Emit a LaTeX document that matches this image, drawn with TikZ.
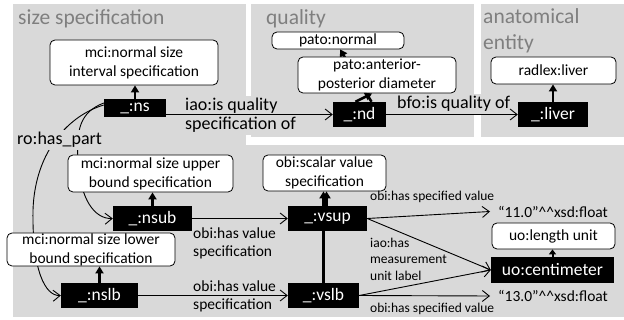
\documentclass[tikz,border=0pt]{standalone}
\usepackage{fontspec}
\setmainfont{Carlito}
\usetikzlibrary{arrows.meta}
\definecolor{panel}{RGB}{217,217,217}
\definecolor{ttl}{RGB}{127,127,127}
\begin{document}
\begin{tikzpicture}[x=1pt,y=-1pt,
 wbox/.style={draw=black, line width=0.8pt, fill=white, rounded corners=5pt, align=center, inner sep=0pt, font=\fontsize{15.5}{19}\selectfont},
 bbox/.style={fill=black, text=white, inner sep=0pt, font=\fontsize{17.5}{20}\selectfont},
 rel/.style={line width=0.9pt, -{Straight Barb[length=7pt,width=11pt]}},
 typ/.style={line width=2.6pt, -{Triangle[length=7pt,width=8pt]}},
 biglab/.style={inner sep=0pt, align=left, font=\fontsize{18}{19}\selectfont},
 midlab/.style={inner sep=0pt, align=left, font=\fontsize{15.5}{18}\selectfont},
 smalllab/.style={inner sep=0pt, align=left, font=\fontsize{13.5}{16.5}\selectfont},
 title/.style={inner sep=0pt, align=left, text=ttl, font=\fontsize{21.5}{26}\selectfont},
 lit/.style={inner xsep=8pt, inner ysep=0pt, font=\fontsize{15.5}{18}\selectfont}
]
\useasboundingbox (0,0) rectangle (624,320);
% panels
\fill[panel] (13,4) rectangle (246,145);
\fill[panel] (251,4) rectangle (474,137);
\fill[panel] (481,4) rectangle (624,137);
\fill[panel] (13,145) rectangle (624,317);
% titles
\node[title, anchor=base west] (tsize) at (18,25) {size specification};
\node[title, anchor=base west] (tqual) at (266,25) {quality};
\node[title, anchor=base west] (tanat) at (483,50) {anatomical\\entity};
% size specification
\node[wbox, minimum width=168pt, minimum height=45pt] (nsspec) at (134,62.5) {mci:normal size\\interval specification};
\node[bbox, minimum width=62pt, minimum height=18pt] (ns) at (135,108) {\_:ns};
\draw[typ] (ns.north) -- (ns.north |- nsspec.south);
% quality
\node[wbox, minimum width=132pt, minimum height=17pt] (patonormal) at (338,40.5) {pato:normal};
\node[bbox, minimum width=53pt, minimum height=25pt] (nd) at (359.5,114.5) {\_:nd};
\draw[typ] ([xshift=12pt]nd.north) -- ([xshift=2pt]patonormal.south);
\node[wbox, minimum width=158pt, minimum height=36pt] (apdiam) at (377,75) {pato:anterior-\\posterior diameter};
\draw[typ] ([xshift=-4pt]nd.north) -- ([xshift=-5pt]apdiam.south);
% anatomical entity
\node[wbox, minimum width=125pt, minimum height=27pt] (radlex) at (553.5,70.5) {radlex:liver};
\node[bbox, minimum width=70pt, minimum height=25pt] (liver) at (553,114.5) {\_:liver};
\draw[typ] (liver.north) -- (liver.north |- radlex.south);
% top relations
\node[biglab, fill=panel, inner sep=2pt, anchor=west] (lisq) at (183,115.5) {iao:is quality\\specification of};
\draw[rel] (nd.west -| ns.east) -- (nd.west);
\node[biglab, fill=panel, inner sep=2pt, anchor=base west] (lbfo) at (395,109) {bfo:is quality of};
\draw[rel] (nd.east) -- (liver.west);
% bounds
\node[bbox, minimum width=79pt, minimum height=25pt] (nsub) at (152.5,218.5) {\_:nsub};
\node[bbox, minimum width=77pt, minimum height=25pt] (nslb) at (99.5,295.5) {\_:nslb};
\draw[rel] ([yshift=5pt]ns.west) .. controls (80,112) and (76,130) .. (78,160) .. controls (80,200) and (95,219) .. (nsub.west);
\draw[rel] ([yshift=3pt]ns.west) .. controls (70,115) and (35,150) .. (33,210) .. controls (32,270) and (45,296) .. (nslb.west);
\node[biglab, fill=panel, inner sep=2pt, anchor=base west] (lpart) at (15,145) {ro:has\_part};
\node[wbox, minimum width=165pt, minimum height=37pt] (ubspec) at (150.5,173.5) {mci:normal size upper\\bound specification};
\node[wbox, minimum width=168pt, minimum height=33pt] (lbspec) at (91,249.5) {mci:normal size lower\\bound specification};
\draw[typ] (nsub.north) -- (nsub.north |- ubspec.south);
\draw[typ] (nslb.north) -- (nslb.north |- lbspec.south);
% values
\node[wbox, minimum width=123pt, minimum height=36pt] (scalar) at (324.5,173) {obi:scalar value\\specification};
\node[bbox, minimum width=71pt, minimum height=25pt] (vslb) at (323.5,295.5) {\_:vslb};
\draw[typ] (vslb.north) -- (vslb.north |- scalar.south);
\node[bbox, minimum width=79pt, minimum height=25pt] (vsup) at (327.5,218.5) {\_:vsup};
\draw[typ] ([xshift=-1pt]vsup.north) -- ([xshift=-1pt]vsup.north |- scalar.south);
\draw[rel] (nsub.east) -- (vsup.west);
\node[midlab, anchor=west] (lhv1) at (193,243) {obi:has value\\specification};
\draw[rel] (nslb.east) -- (vslb.west);
\node[midlab, anchor=west] (lhv2) at (193,296) {obi:has value\\specification};
% units and literals
\node[wbox, minimum width=123pt, minimum height=26pt] (lunit) at (553.5,236) {uo:length unit};
\node[bbox, minimum width=123pt, minimum height=26pt] (cm) at (552.5,270) {uo:centimeter};
\draw[line width=2pt, -{Triangle[length=5pt,width=7pt]}] (cm.north) -- (cm.north |- lunit.south);
\node[lit, anchor=west] (v11) at (490,211.5) {“11.0”\^{}\^{}xsd:float};
\node[lit, anchor=west] (v13) at (490,296) {“13.0”\^{}\^{}xsd:float};
\draw[rel] (vsup.east) -- (v11.west);
\draw[rel] (vsup.east) -- (cm.west);
\draw[rel] (vslb.east) -- (cm.west);
\draw[rel] (vslb.east) -- (v13.west);
\node[smalllab, anchor=base west] (lsv1) at (370,201) {obi:has specified value};
\node[smalllab, anchor=west] (lunitlab) at (370,259) {iao:has\\measurement\\unit label};
\node[smalllab, anchor=base west] (lsv2) at (370,313) {obi:has specified value};
\end{tikzpicture}
\end{document}
